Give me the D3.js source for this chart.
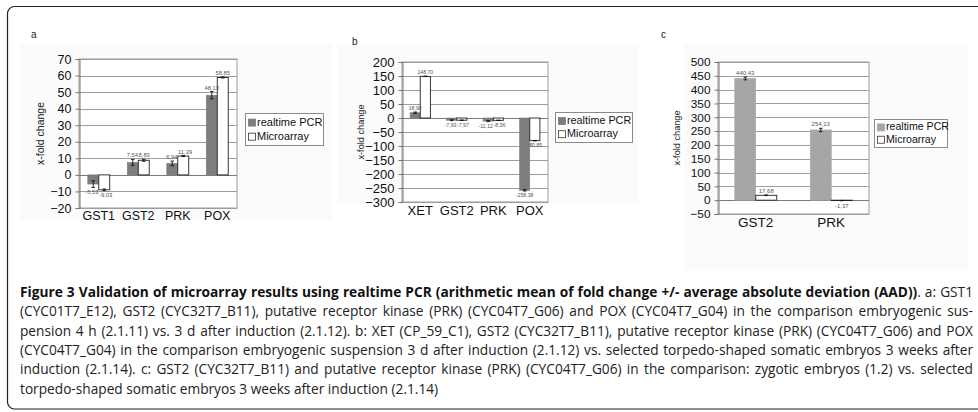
<!DOCTYPE html>
<html>
<head>
<meta charset="utf-8">
<script src="https://cdn.jsdelivr.net/npm/d3@7/dist/d3.min.js"></script>
<style>
  html, body { margin: 0; padding: 0; background: #fff; }
  svg { display: block; }
</style>
</head>
<body>
<svg id="fig" width="978" height="412"></svg>
<script>
// ---- data -------------------------------------------------------------
const seriesNames = ["realtime PCR", "Microarray"];

// a: embryogenic suspension 4 h vs. 3 d after induction
const catsA = ["GST1", "GST2", "PRK", "POX"];
const realtimeA = [-5.53, 7.54, 6.94, 48.13];
const microarrayA = [-9.03, 8.83, 11.39, 58.85];
const realtimeAadA = [2.0, 1.8, 1.4, 2.2];
const microarrayAadA = [0.5, 0.6, 0.3, 0.3];
const ticksA = [-20, -10, 0, 10, 20, 30, 40, 50, 60, 70];

// b: suspension 3 d after induction vs. torpedo-shaped somatic embryos
const catsB = ["XET", "GST2", "PRK", "POX"];
const realtimeB = [18.90, -7.93, -11.12, -258.38];
const microarrayB = [148.70, -7.97, -8.36, -80.85];
const realtimeAadB = [2.5, 1.5, 1.8, 2.5];
const microarrayAadB = [0.8, 0.5, 0.5, 0.8];
const ticksB = [-300, -250, -200, -150, -100, -50, 0, 50, 100, 150, 200];

// c: zygotic embryos vs. torpedo-shaped somatic embryos
const catsC = ["GST2", "PRK"];
const realtimeC = [440.43, 254.13];
const microarrayC = [17.68, -1.37];
const realtimeAadC = [5.0, 6.0];
const microarrayAadC = [1.0, 0.5];
const ticksC = [-50, 0, 50, 100, 150, 200, 250, 300, 350, 400, 450, 500];

const captionBold = "Figure 3 Validation of microarray results using realtime PCR (arithmetic mean of fold change +/- average absolute deviation (AAD))";
const captionLines = [
  ". a: GST1",
  "(CYC01T7_E12), GST2 (CYC32T7_B11), putative receptor kinase (PRK) (CYC04T7_G06) and POX (CYC04T7_G04) in the comparison embryogenic sus-",
  "pension 4 h (2.1.11) vs. 3 d after induction (2.1.12). b: XET (CP_59_C1), GST2 (CYC32T7_B11), putative receptor kinase (PRK) (CYC04T7_G06) and POX",
  "(CYC04T7_G04) in the comparison embryogenic suspension 3 d after induction (2.1.12) vs. selected torpedo-shaped somatic embryos 3 weeks after",
  "induction (2.1.14). c: GST2 (CYC32T7_B11) and putative receptor kinase (PRK) (CYC04T7_G06) in the comparison: zygotic embryos (1.2) vs. selected",
  "torpedo-shaped somatic embryos 3 weeks after induction (2.1.14)"
];

// ---- layout -----------------------------------------------------------
const svg = d3.select("#fig");
const chartFont = "'Liberation Sans', Arial, sans-serif";
const fmt = v => v.toFixed(2).replace(".", ",");

// outer figure frame (right edge runs past the page)
svg.append("rect")
  .attr("x", 7.5).attr("y", 6.5).attr("width", 1000).attr("height", 402.5)
  .attr("rx", 7).attr("ry", 7)
  .attr("fill", "none").attr("stroke", "#222").attr("stroke-width", 1.2);

// faint panel image backgrounds
[[20, 44, 312, 176], [338, 44, 300, 160], [684, 44, 284, 226]].forEach(r => {
  svg.append("rect").attr("x", r[0]).attr("y", r[1]).attr("width", r[2]).attr("height", r[3])
    .attr("fill", "#fbfbfb");
});

const panels = [
  { tag: "a", cats: catsA, vals: [realtimeA, microarrayA], aad: [realtimeAadA, microarrayAadA], ticks: ticksA,
    left: 79, right: 237, top: 59, bottom: 208, tagX: 31, tagY: 38, catY: 220, catSize: 12.5, tickSize: 12.5,
    ylabX: 41, ylabSize: 10.5, rtColor: "#7d7d7d", legend: [245, 113, 78, 32], legSize: 11, valSize: 5.8 },
  { tag: "b", cats: catsB, vals: [realtimeB, microarrayB], aad: [realtimeAadB, microarrayAadB], ticks: ticksB,
    left: 402, right: 548, top: 62, bottom: 202, tagX: 352, tagY: 45, catY: 215, catSize: 13, tickSize: 13,
    ylabX: 362, ylabSize: 9.2, rtColor: "#7d7d7d", legend: [555, 112, 77, 30], legSize: 10.8, valSize: 5.2 },
  { tag: "c", cats: catsC, vals: [realtimeC, microarrayC], aad: [realtimeAadC, microarrayAadC], ticks: ticksC,
    left: 718, right: 869, top: 62, bottom: 214, tagX: 661, tagY: 38, catY: 227, catSize: 13.5, tickSize: 11.8,
    ylabX: 678, ylabSize: 9.2, rtColor: "#a6a6a6", legend: [874, 119, 73, 28], legSize: 10.6, valSize: 6 }
];

panels.forEach(drawPanel);

function drawPanel(p) {
  const g = svg.append("g").attr("font-family", chartFont);
  const lo = p.ticks[0], hi = p.ticks[p.ticks.length - 1];
  const y = d3.scaleLinear().domain([lo, hi]).range([p.bottom, p.top]);
  const x0 = d3.scaleBand().domain(p.cats).range([p.left, p.right])
    .paddingInner(0.444).paddingOuter(0.222);
  const x1 = d3.scaleBand().domain(seriesNames).range([0, x0.bandwidth()]);

  // plot area + gridlines
  g.append("rect").attr("x", p.left).attr("y", p.top)
    .attr("width", p.right - p.left).attr("height", p.bottom - p.top)
    .attr("fill", "#fff").attr("stroke", "#9d9d9d").attr("stroke-width", 1);
  g.selectAll("line.grid").data(p.ticks).join("line")
    .attr("class", "grid")
    .attr("x1", p.left).attr("x2", p.right)
    .attr("y1", d => Math.round(y(d)) + 0.5).attr("y2", d => Math.round(y(d)) + 0.5)
    .attr("stroke", d => d === 0 ? "#7a7a7a" : "#9d9d9d").attr("stroke-width", 1);

  // value axis
  const axis = g.append("g").attr("transform", `translate(${p.left + 0.5},0)`)
    .call(d3.axisLeft(y).tickValues(p.ticks).tickSize(4).tickPadding(4).tickFormat(d3.format("d")));
  axis.select(".domain").attr("stroke", "#777");
  axis.selectAll(".tick line").attr("stroke", "#777");
  axis.selectAll(".tick text").attr("font-size", p.tickSize).attr("font-family", chartFont).attr("fill", "#111");

  const bw = x1.bandwidth();
  const layers = { bars: g.append("g"), errs: g.append("g"), labels: g.append("g") };

  // label anchor point for every bar; pairs of labels sitting at nearly the same
  // height are pushed apart to either side of the shared bar edge
  const labelY = (v, e) => v >= 0 ? y(v + e) - 2 : y(v - e) + p.valSize + 1;
  const crowded = p.cats.map((c, i) => {
    const [v0, v1] = [p.vals[0][i], p.vals[1][i]];
    return Math.sign(v0) === Math.sign(v1) &&
      Math.abs(labelY(v0, p.aad[0][i]) - labelY(v1, p.aad[1][i])) < p.valSize * 1.2;
  });

  seriesNames.forEach((s, si) => {
    const vals = p.vals[si], errs = p.aad[si];
    const bx = i => x0(p.cats[i]) + x1(s);

    // bars
    layers.bars.selectAll(null).data(vals).join("rect")
      .attr("x", (d, i) => bx(i))
      .attr("y", d => Math.min(y(d), y(0)))
      .attr("width", bw)
      .attr("height", d => Math.abs(y(d) - y(0)))
      .attr("fill", si === 0 ? p.rtColor : "#fff")
      .attr("stroke", si === 0 ? p.rtColor : "#222")
      .attr("stroke-width", si === 0 ? 0.6 : 0.9);

    vals.forEach((v, i) => {
      const cx = bx(i) + bw / 2, e = errs[i];
      const ya = y(v + e), yb = y(v - e);
      // error bar (mean +/- AAD)
      layers.errs.append("line").attr("x1", cx).attr("x2", cx).attr("y1", ya).attr("y2", yb)
        .attr("stroke", "#111").attr("stroke-width", 0.9);
      [ya, yb].forEach(yy => layers.errs.append("line")
        .attr("x1", cx - 1.8).attr("x2", cx + 1.8).attr("y1", yy).attr("y2", yy)
        .attr("stroke", "#111").attr("stroke-width", 0.9));
      // value label
      const split = crowded[i];
      const edge = x0(p.cats[i]) + bw;
      layers.labels.append("text")
        .attr("x", split ? (si === 0 ? edge - 0.3 : edge + 0.3) : cx)
        .attr("y", labelY(v, e))
        .attr("text-anchor", split ? (si === 0 ? "end" : "start") : "middle")
        .attr("font-size", p.valSize).attr("fill", "#555")
        .text(fmt(v));
    });
  });

  // category labels
  g.selectAll("text.cat").data(p.cats).join("text")
    .attr("class", "cat")
    .attr("x", d => x0(d) + x0.bandwidth() / 2).attr("y", p.catY)
    .attr("text-anchor", "middle").attr("font-size", p.catSize).attr("fill", "#111")
    .text(d => d);

  // axis title
  g.append("text")
    .attr("transform", `translate(${p.ylabX},${(p.top + p.bottom) / 2}) rotate(-90)`)
    .attr("text-anchor", "middle").attr("dominant-baseline", "middle")
    .attr("font-size", p.ylabSize).attr("fill", "#222")
    .text("x-fold change");

  // panel tag
  g.append("text").attr("x", p.tagX).attr("y", p.tagY)
    .attr("font-size", 10).attr("fill", "#222").text(p.tag);

  // legend
  const [lx, ly, lw, lh] = p.legend;
  g.append("rect").attr("x", lx + 0.5).attr("y", ly + 0.5).attr("width", lw).attr("height", lh)
    .attr("fill", "#fff").attr("stroke", "#8a8a8a").attr("stroke-width", 1);
  seriesNames.forEach((s, si) => {
    const cy = ly + lh * (si === 0 ? 0.3 : 0.74);
    g.append("rect").attr("x", lx + 3.5).attr("y", cy - 3.5).attr("width", 7).attr("height", 7)
      .attr("fill", si === 0 ? p.rtColor : "#fff")
      .attr("stroke", si === 0 ? p.rtColor : "#333").attr("stroke-width", 0.8);
    g.append("text").attr("x", lx + 12).attr("y", cy).attr("dominant-baseline", "middle")
      .attr("font-size", p.legSize).attr("fill", "#111").text(s);
  });
}

// ---- caption -----------------------------------------------------------
const capFont = "'Open Sans', 'Noto Sans', sans-serif";
const capLeft = 20, capRight = 973, capTop = 297, capStep = 19.3, capSize = 13.7;
const cap = svg.append("g").attr("font-family", capFont).attr("font-size", capSize).attr("fill", "#222");

captionLines.forEach((line, i) => {
  const t = cap.append("text").attr("x", capLeft).attr("y", capTop + i * capStep)
    .attr("xml:space", "preserve");
  if (i === 0) {
    t.append("tspan").attr("font-weight", "bold").attr("fill", "#111").text(captionBold);
    t.append("tspan").text(line);
  } else {
    t.text(line);
  }
  // justify every line except the last
  if (i < captionLines.length - 1) {
    const full = (i === 0 ? captionBold : "") + line;
    const spaces = (full.match(/ /g) || []).length;
    const natural = t.node().getComputedTextLength();
    const ws = (capRight - capLeft - natural) / spaces;
    t.attr("word-spacing", ws);
  }
});
</script>
</body>
</html>
